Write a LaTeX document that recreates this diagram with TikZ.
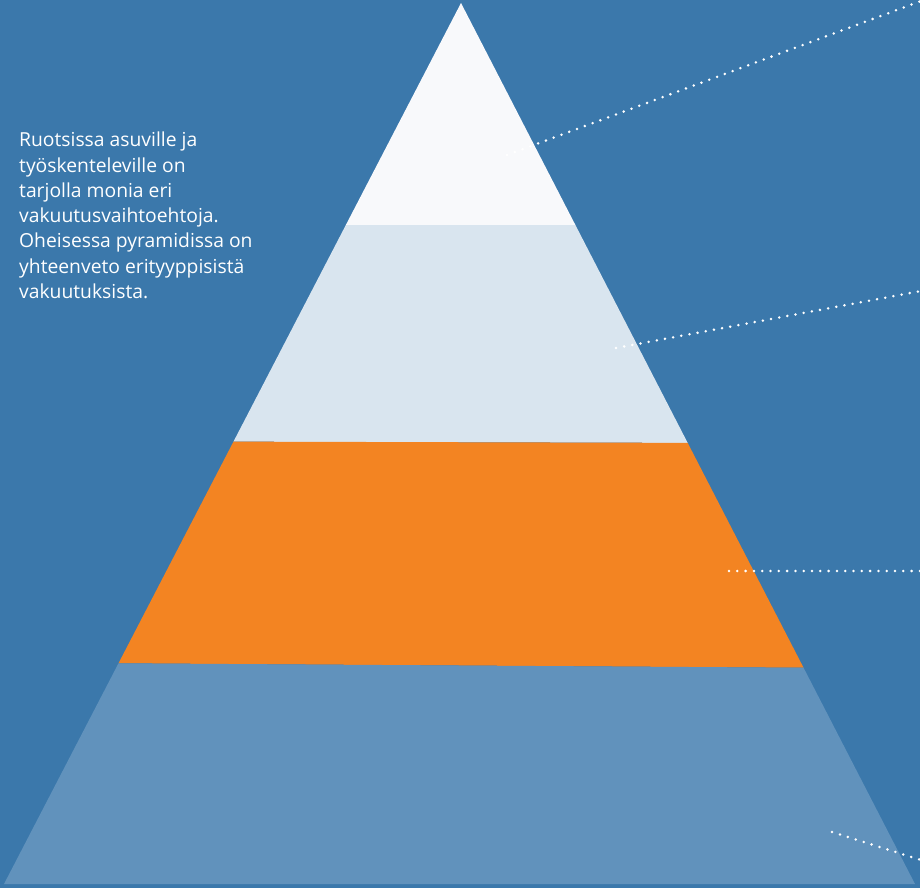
\documentclass[tikz,border=0pt]{standalone}
\usepackage{fontspec}
\setmainfont{Open Sans}
\definecolor{bgblue}{HTML}{3B78AB}
\definecolor{tierone}{HTML}{F8F9FB}
\definecolor{tiertwo}{HTML}{D9E5EF}
\definecolor{tierthree}{HTML}{F38422}
\definecolor{tierfour}{HTML}{6192BC}
\tikzset{
  leader/.style={white, line width=2.8pt, line cap=round, dash pattern=on 0pt off 8.3pt},
  blurb/.style={text=white, align=left, inner sep=0pt, font=\fontsize{19.3}{25.3}\selectfont}
}
\begin{document}
\begin{tikzpicture}[x=1pt,y=-1pt]
\useasboundingbox (0,0) rectangle (920,888);
\fill[bgblue] (0,0) rectangle (920,888);
% pyramid corners
\coordinate (apex) at (461,3);
\coordinate (bl) at (4,884);
\coordinate (br) at (915,884);
\begin{scope}
\clip (apex) -- (bl) -- (br) -- cycle;
\fill[tierone] (0,0) rectangle (920,225);
\fill[tiertwo] (0,225) -- (920,225) -- (920,443.5) -- (0,441) -- cycle;
\fill[tierthree] (0,441) -- (920,443.5) -- (920,668.5) -- (0,662.5) -- cycle;
\fill[tierfour] (0,662.5) -- (920,668.5) -- (920,888) -- (0,888) -- cycle;
\end{scope}
% leader lines
\coordinate (s1) at (507,155); \coordinate (e1) at (921,1);
\coordinate (s2) at (616,348); \coordinate (e2) at (921,291);
\coordinate (s3) at (729,571); \coordinate (e3) at (921,571);
\coordinate (s4) at (832,832); \coordinate (e4) at (921,860);
\draw[leader] (s1) -- (e1);
\draw[leader] (s2) -- (e2);
\draw[leader] (s3) -- (e3);
\draw[leader] (s4) -- (e4);
\node[blurb, anchor=base west] (intro) at (19,298.5) {Ruotsissa asuville ja\\työskenteleville on\\tarjolla monia eri\\vakuutusvaihtoehtoja.\\Oheisessa pyramidissa on\\yhteenveto erityyppisistä\\vakuutuksista.};
\end{tikzpicture}
\end{document}
